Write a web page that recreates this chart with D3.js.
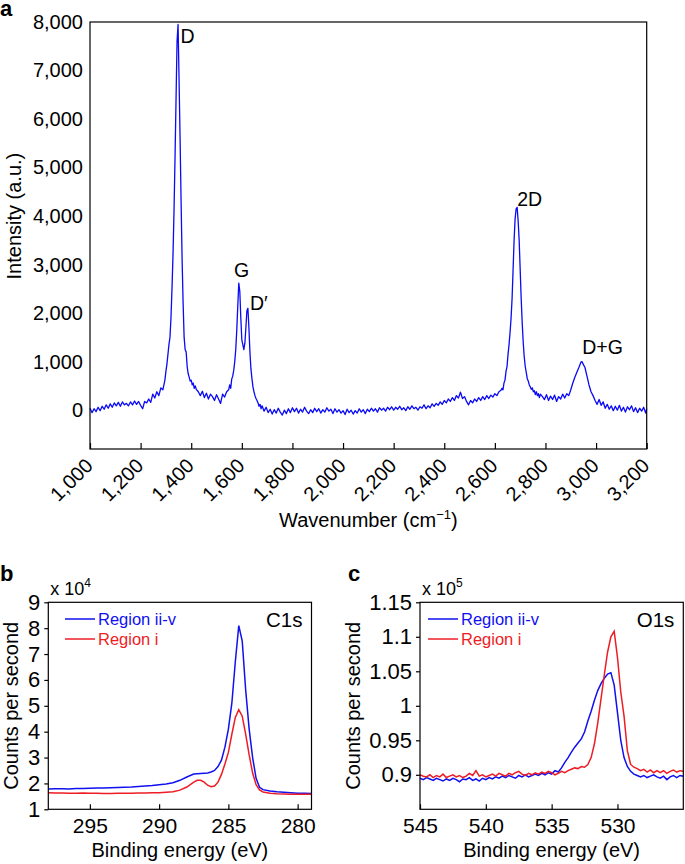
<!DOCTYPE html>
<html><head><meta charset="utf-8">
<script src="https://cdn.jsdelivr.net/npm/d3@7"></script>
<style>
body{margin:0;background:#fff;}
svg{display:block;font-family:"Liberation Sans",Arial,Helvetica,sans-serif;}
</style></head><body>
<svg id="chart" width="685" height="864"></svg>
<script>
// ---------- Panel a: Raman spectrum ----------
const ramanSpectrum = [
[1000,40],[1008,-50],[1016,30],[1024,-30],[1032,60],[1040,-10],[1048,80],[1056,20],[1064,110],[1072,40],
[1080,130],[1088,60],[1096,150],[1104,90],[1112,160],[1120,80],[1128,170],[1136,110],[1144,140],[1152,90],
[1160,170],[1168,110],[1176,190],[1184,120],[1192,180],[1200,100],[1208,30],[1216,180],[1224,150],[1232,230],
[1240,160],[1248,330],[1256,250],[1264,380],[1272,300],[1280,460],[1288,420],[1296,620],
[1300,800],[1304,950],[1308,1150],[1312,1350],[1316,1500],[1320,1900],[1324,2500],[1328,3200],[1332,4100],
[1336,5200],[1340,6400],[1344,7600],[1348,7950],[1352,6800],[1356,5600],[1360,4300],[1364,3100],[1368,2200],
[1372,1500],[1376,1250],[1380,1200],[1384,900],[1388,750],[1392,680],[1396,600],[1400,620],[1404,520],
[1408,560],[1412,450],[1416,500],[1420,430],
[1428,380],[1436,300],[1444,390],[1452,260],[1460,350],[1468,230],[1476,330],[1484,280],[1492,200],[1500,320],
[1508,230],[1516,140],[1524,330],[1532,270],[1540,380],[1548,420],
[1552,520],[1556,450],[1560,640],[1564,700],[1568,820],[1572,1000],[1576,1250],[1580,1650],[1584,2150],
[1588,2620],[1592,2450],[1596,1900],[1600,1450],[1604,1350],[1608,1250],[1612,1380],[1616,1700],[1620,2050],
[1624,2100],[1628,1700],[1632,1200],[1636,850],[1640,650],[1644,480],[1648,380],[1652,300],[1656,240],
[1660,200],[1664,150],[1668,80],[1672,120],[1676,30],[1680,90],
[1688,-20],[1696,60],[1704,-50],[1712,20],[1720,-80],[1728,10],[1736,-60],[1744,40],[1752,-40],[1760,-100],
[1768,0],[1776,-70],[1784,30],[1792,-50],[1800,50],[1808,-30],[1816,40],[1824,-60],[1832,20],[1840,-40],
[1848,60],[1856,-20],[1864,-70],[1872,10],[1880,-50],[1888,40],[1896,-30],[1904,30],[1912,-60],[1920,10],
[1928,-40],[1936,50],[1944,-20],[1952,20],[1960,-70],[1968,30],[1976,-40],[1984,10],[1992,-60],[2000,-10],
[2008,-90],[2016,20],[2024,-50],[2032,0],[2040,-80],[2048,-10],[2056,-60],[2064,30],[2072,-40],[2080,10],
[2088,-70],[2096,20],[2104,-30],[2112,40],[2120,-20],[2128,30],[2136,-40],[2144,50],[2152,0],[2160,40],
[2168,-20],[2176,60],[2184,10],[2192,70],[2200,0],[2208,60],[2216,20],[2224,80],[2232,10],[2240,50],
[2248,-10],[2256,70],[2264,20],[2272,90],[2280,30],[2288,60],[2296,0],[2304,70],[2312,40],[2320,110],
[2328,30],[2336,90],[2344,50],[2352,130],[2360,80],[2368,140],[2376,100],[2384,170],[2392,120],[2400,200],
[2408,150],[2416,230],[2424,180],[2432,260],[2440,200],[2448,300],[2456,250],[2464,370],[2472,240],[2480,280],
[2488,180],[2496,110],[2504,200],[2512,150],[2520,230],[2528,180],[2536,260],[2544,200],[2552,280],[2560,220],
[2568,300],[2576,240],[2584,310],[2592,270],[2600,340],[2608,300],[2616,380],[2624,410],
[2628,450],[2632,420],[2636,560],[2640,620],[2644,800],[2648,900],[2652,1150],[2656,1350],[2660,1600],
[2664,1900],[2668,2300],[2672,2900],[2676,3500],[2680,3950],[2684,4150],[2688,4180],[2692,3900],[2696,3500],
[2700,2900],[2704,2300],[2708,1800],[2712,1400],[2716,1100],[2720,900],[2724,780],[2728,650],[2732,600],
[2736,520],[2740,480],[2744,430],[2748,460],[2752,380],[2756,400],[2760,320],[2764,380],[2768,300],[2772,340],
[2776,260],[2780,330],
[2788,280],[2796,220],[2804,320],[2812,200],[2820,290],[2828,220],[2836,310],[2844,180],[2852,280],[2860,230],
[2868,330],[2876,250],[2884,340],[2892,300],[2900,420],[2908,560],[2916,680],[2924,780],[2932,880],[2940,990],
[2944,1000],[2948,960],[2956,880],[2964,700],[2972,520],[2980,380],[2988,300],[2996,200],[3004,120],[3012,220],
[3020,100],[3028,170],[3036,40],[3044,120],[3052,20],[3060,90],[3068,-10],[3076,80],[3084,0],[3092,100],
[3100,-20],[3108,60],[3116,-40],[3124,70],[3132,10],[3140,90],[3148,-30],[3156,50],[3164,-50],[3172,40],
[3180,-20],[3188,60],[3196,-60],[3200,30]
];
const ramanXTicks = [1000,1200,1400,1600,1800,2000,2200,2400,2600,2800,3000,3200];
const ramanYTicks = [0,1000,2000,3000,4000,5000,6000,7000,8000];
const ramanPeakLabels = [
  {text:"D", x:1358, y:7560, anchor:"start"},
  {text:"G", x:1599, y:2740, anchor:"middle"},
  {text:"D\u2032", x:1632, y:2060, anchor:"start"},
  {text:"2D", x:2688, y:4210, anchor:"start"},
  {text:"D+G", x:2945, y:1150, anchor:"start"}
];

// ---------- Panel b: C1s XPS ----------
const c1sEnergy = [298,297.5,297,296.5,296,295.5,295,294.5,294,293.5,293,292.5,292,291.5,291,290.5,290,289.5,289,288.5,288,287.5,287.25,287,286.75,286.5,286.25,286,285.75,285.5,285.25,285,284.75,284.5,284.25,284,283.75,283.5,283.25,283,282.75,282.5,282,281.5,281,280.5,280,279.5,279];
const c1sRegionIIV = [1.78,1.79,1.79,1.78,1.80,1.80,1.81,1.82,1.82,1.83,1.84,1.85,1.86,1.88,1.90,1.92,1.95,1.98,2.03,2.12,2.25,2.36,2.37,2.38,2.39,2.40,2.44,2.50,2.65,2.90,3.40,4.10,5.10,6.70,8.10,7.50,5.60,4.10,3.00,2.20,1.85,1.76,1.71,1.68,1.66,1.64,1.62,1.62,1.61];
const c1sRegionI = [1.64,1.63,1.63,1.62,1.62,1.63,1.62,1.62,1.61,1.61,1.62,1.62,1.62,1.63,1.63,1.64,1.64,1.66,1.68,1.74,1.86,2.05,2.12,2.12,2.05,1.93,1.87,1.90,2.05,2.35,2.75,3.20,3.90,4.55,4.85,4.60,3.90,3.10,2.40,1.95,1.75,1.67,1.62,1.60,1.59,1.58,1.58,1.58,1.58];
const c1sXTicks = [295,290,285,280];
const c1sYTicks = [1,2,3,4,5,6,7,8,9];

// ---------- Panel c: O1s XPS ----------
const o1sEnergy = [545,544.75,544.5,544.25,544,543.75,543.5,543.25,543,542.75,542.5,542.25,542,541.75,541.5,541.25,541,540.75,540.5,540.25,540,539.75,539.5,539.25,539,538.75,538.5,538.25,538,537.75,537.5,537.25,537,536.75,536.5,536.25,536,535.75,535.5,535.25,535,534.75,534.5,534.25,534,533.75,533.5,533.25,533,532.75,532.5,532.25,532,531.75,531.5,531.25,531,530.75,530.5,530.25,530,529.75,529.5,529.25,529,528.75,528.5,528.25,528,527.75,527.5,527.25,527,526.75,526.5,526.25,526,525.75,525.5,525.25,525];
const o1sRegionIIV = [0.895,0.893,0.896,0.894,0.892,0.895,0.893,0.891,0.894,0.892,0.895,0.893,0.890,0.894,0.893,0.896,0.892,0.894,0.891,0.895,0.893,0.896,0.894,0.897,0.895,0.898,0.896,0.899,0.897,0.895,0.899,0.897,0.900,0.897,0.899,0.901,0.899,0.902,0.900,0.903,0.901,0.906,0.904,0.910,0.918,0.925,0.933,0.940,0.946,0.952,0.962,0.978,0.992,1.008,1.022,1.032,1.040,1.046,1.048,1.030,0.990,0.950,0.925,0.912,0.905,0.901,0.899,0.897,0.899,0.896,0.898,0.900,0.897,0.895,0.898,0.893,0.897,0.899,0.896,0.899,0.898];
const o1sRegionI = [0.900,0.898,0.897,0.900,0.896,0.899,0.897,0.901,0.896,0.898,0.900,0.897,0.899,0.896,0.898,0.902,0.899,0.906,0.898,0.900,0.897,0.899,0.901,0.898,0.902,0.900,0.898,0.902,0.900,0.903,0.905,0.901,0.899,0.902,0.900,0.903,0.901,0.904,0.902,0.905,0.903,0.900,0.902,0.905,0.903,0.906,0.908,0.910,0.909,0.912,0.911,0.915,0.925,0.945,0.975,1.010,1.045,1.078,1.100,1.108,1.070,1.020,0.985,0.935,0.915,0.911,0.909,0.906,0.908,0.904,0.907,0.903,0.906,0.903,0.906,0.902,0.905,0.907,0.904,0.906,0.905];
const o1sXTicks = [545,540,535,530];
const o1sYTicks = [0.9,0.95,1,1.05,1.1,1.15];

const legendSeries = [
  {name:"Region ii-v", color:"#1010f0"},
  {name:"Region i", color:"#ee1c24"}
];

// ---------- drawing ----------
const svg = d3.select("#chart");
const FONT_TITLE = 20;

function frame(g, x0, y0, x1, y1){
  g.append("rect").attr("x",x0).attr("y",y0).attr("width",x1-x0).attr("height",y1-y0)
    .attr("fill","none").attr("stroke","#000").attr("stroke-width",1.2);
}

// Panel a
(function(){
  const L=90, R=646.7, T=22, B=449;
  const x = d3.scaleLinear().domain([1000,3200]).range([L,R]);
  const y = d3.scaleLinear().domain([-800,8000]).range([B,T]);
  const g = svg.append("g");
  const line = d3.line().x(d=>x(d[0])).y(d=>y(d[1]));
  g.append("path").datum(ramanSpectrum).attr("d",line).attr("fill","none")
    .attr("stroke","#0a0af5").attr("stroke-width",1.3).attr("stroke-linejoin","round");
  const xa = g.append("g").attr("transform",`translate(0,${B})`)
    .call(d3.axisBottom(x).tickValues(ramanXTicks).tickSize(-6).tickFormat(""));
  xa.select(".domain").remove();
  xa.selectAll("line").attr("stroke","#000").attr("stroke-width",1.2);
  const fmt = d3.format(",");
  g.selectAll(".xl").data(ramanXTicks).enter().append("text")
    .attr("transform",d=>`translate(${x(d)+4},${B+18}) rotate(-45)`)
    .attr("text-anchor","end").attr("font-size",20).text(d=>fmt(d));
  const ya = g.append("g").attr("transform",`translate(${L},0)`)
    .call(d3.axisLeft(y).tickValues(ramanYTicks).tickSize(0).tickPadding(7).tickFormat(fmt));
  ya.select(".domain").remove();
  ya.selectAll("text").attr("font-size",20).attr("font-family",null).attr("fill","#000");
  frame(g,L,T,R,B);
  g.selectAll(".pk").data(ramanPeakLabels).enter().append("text")
    .attr("x",d=>x(d.x)).attr("y",d=>y(d.y)).attr("text-anchor",d=>d.anchor)
    .attr("font-size",19.5).text(d=>d.text);
  g.append("text").attr("transform",`translate(21,${(y(0)+y(8000))/2}) rotate(-90)`)
    .attr("text-anchor","middle").attr("font-size",FONT_TITLE).text("Intensity (a.u.)");
  const xt = g.append("text").attr("x",(L+R)/2).attr("y",527).attr("text-anchor","middle").attr("font-size",FONT_TITLE);
  xt.append("tspan").text("Wavenumber (cm");
  xt.append("tspan").attr("font-size",13).attr("dy",-8).text("\u22121");
  xt.append("tspan").attr("dy",8).text(")");
  svg.append("text").attr("x",0).attr("y",16).attr("font-size",22).attr("font-weight","bold").text("a");
})();

function xpsPanel(opts){
  const {L,R,T,B,xDomain,yDomain,xTicks,yTicks,energy,s1,s2,tag,exp,letter,letterX,yFmt,legendX,titleX} = opts;
  const x = d3.scaleLinear().domain(xDomain).range([L,R]);
  const y = d3.scaleLinear().domain(yDomain).range([B,T]);
  const g = svg.append("g");
  const line = d3.line().x((d,i)=>x(energy[i])).y(d=>y(d));
  g.append("path").datum(s1).attr("d",line).attr("fill","none").attr("stroke",legendSeries[0].color).attr("stroke-width",1.5);
  g.append("path").datum(s2).attr("d",line).attr("fill","none").attr("stroke",legendSeries[1].color).attr("stroke-width",1.5);
  const xa = g.append("g").attr("transform",`translate(0,${B})`)
    .call(d3.axisBottom(x).tickValues(xTicks).tickSize(-5).tickPadding(9).tickFormat(d=>d));
  xa.select(".domain").remove();
  xa.selectAll("line").attr("stroke","#000").attr("stroke-width",1.2);
  xa.selectAll("text").attr("font-size",21).attr("font-family",null).attr("fill","#000");
  const ya = g.append("g").attr("transform",`translate(${L},0)`)
    .call(d3.axisLeft(y).tickValues(yTicks).tickSize(4).tickPadding(4).tickFormat(yFmt));
  ya.select(".domain").remove();
  ya.selectAll("line").attr("stroke","#000").attr("stroke-width",1.2);
  ya.selectAll("text").attr("font-size",22).attr("font-family",null).attr("fill","#000");
  frame(g,L,T,R,B);
  legendSeries.forEach((s,i)=>{
    const ly = 619 + i*20;
    g.append("line").attr("x1",legendX).attr("x2",legendX+30).attr("y1",ly).attr("y2",ly)
      .attr("stroke",s.color).attr("stroke-width",1.5);
    g.append("text").attr("x",legendX+33).attr("y",ly+6).attr("font-size",16.5).attr("fill",s.color).text(s.name);
  });
  g.append("text").attr("x",R-9).attr("y",627).attr("text-anchor","end").attr("font-size",20.5).text(tag);
  const e = g.append("text").attr("x",L+2).attr("y",595).attr("font-size",18);
  e.append("tspan").text("x 10");
  e.append("tspan").attr("font-size",12).attr("dy",-8).text(exp);
  g.append("text").attr("transform",`translate(${titleX},${(T+B)/2}) rotate(-90)`)
    .attr("text-anchor","middle").attr("font-size",FONT_TITLE).text("Counts per second");
  g.append("text").attr("x",(L+R)/2).attr("y",857).attr("text-anchor","middle").attr("font-size",FONT_TITLE).text("Binding energy (eV)");
  svg.append("text").attr("x",letterX).attr("y",581).attr("font-size",22).attr("font-weight","bold").text(letter);
}

xpsPanel({L:48.3,R:311.5,T:602.3,B:809.3,xDomain:[298,279],yDomain:[1,9],xTicks:c1sXTicks,yTicks:c1sYTicks,
  energy:c1sEnergy,s1:c1sRegionIIV,s2:c1sRegionI,tag:"C1s",exp:"4",letter:"b",letterX:0,yFmt:d=>d,legendX:65,titleX:17.5});
xpsPanel({L:420,R:683.3,T:602.3,B:809.3,xDomain:[545,525],yDomain:[0.85,1.15],xTicks:o1sXTicks,yTicks:o1sYTicks,
  energy:o1sEnergy,s1:o1sRegionIIV,s2:o1sRegionI,tag:"O1s",exp:"5",letter:"c",letterX:348,yFmt:d=>String(+d.toFixed(2)),legendX:428,titleX:360});
</script>
</body></html>
